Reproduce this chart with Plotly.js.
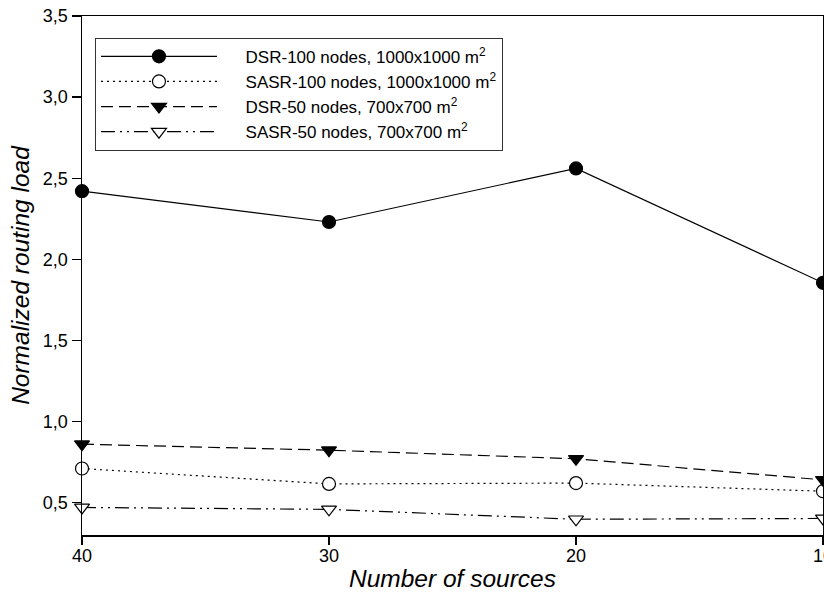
<!DOCTYPE html>
<html>
<head>
<meta charset="utf-8">
<script src="https://cdn.plot.ly/plotly-3.0.1.min.js"></script>
<style>html,body{margin:0;padding:0;background:#fff;}#chart{width:824px;height:597px;}</style>
</head>
<body>
<div id="chart"></div>
<script>
const sources = [40, 30, 20, 10];
const dsr100 = [2.42, 2.23, 2.56, 1.855];
const sasr100 = [0.71, 0.615, 0.62, 0.57];
const dsr50 = [0.86, 0.823, 0.77, 0.64];
const sasr50 = [0.47, 0.458, 0.397, 0.402];
const seriesNames = [
  'DSR-100 nodes, 1000x1000 m<sup>2</sup>',
  'SASR-100 nodes, 1000x1000 m<sup>2</sup>',
  'DSR-50 nodes, 700x700 m<sup>2</sup>',
  'SASR-50 nodes, 700x700 m<sup>2</sup>'
];
const yTicks = [0.5, 1.0, 1.5, 2.0, 2.5, 3.0, 3.5];
const xTicks = [40, 30, 20, 10];

const FONT = 'Liberation Sans, Arial, sans-serif';
const PAD = '\u00A0\u00A0\u00A0\u00A0\u00A0';
function tr(y, name, dash, symbol, fill) {
  return {
    x: sources, y: y, name: PAD + name, type: 'scatter', mode: 'lines+markers',
    cliponaxis: false,
    line: {color: '#000', width: 1.2, dash: dash},
    marker: {symbol: symbol, size: 13, color: fill, line: {color: '#000', width: 1.2}}
  };
}
const data = [
  tr(dsr100, seriesNames[0], 'solid', 'circle', '#000'),
  tr(sasr100, seriesNames[1], '2px,4px', 'circle', '#fff'),
  tr(dsr50, seriesNames[2], '12px,6px', 'triangle-down', '#000'),
  tr(sasr50, seriesNames[3], '14px,5px,2px,5px,2px,5px', 'triangle-down', '#fff')
];
const layout = {
  width: 824, height: 597,
  margin: {l: 82, r: 1, t: 16, b: 62, pad: 0},
  paper_bgcolor: '#fff', plot_bgcolor: '#fff',
  separators: ', ',
  font: {family: FONT, color: '#000', size: 18},
  showlegend: true,
  legend: {
    x: 0.0175, y: 0.958, xanchor: 'left', yanchor: 'top',
    bgcolor: '#fff', bordercolor: '#333', borderwidth: 1,
    font: {family: FONT, size: 17, color: '#000'},
    itemwidth: 116
  },
  xaxis: {
    range: [40, 10], tickvals: xTicks, ticktext: xTicks.map(String),
    showgrid: false, zeroline: false,
    showline: true, linecolor: '#000', linewidth: 1.5, mirror: true,
    ticks: 'outside', ticklen: 8, tickwidth: 1.3, tickcolor: '#000',
    ticklabeloverflow: 'allow', ticklabelstandoff: -4,
    tickfont: {family: FONT, size: 18, color: '#000'},
    title: {text: '<i>Number of sources</i>', font: {family: FONT, size: 24.5, color: '#000'}, standoff: 5}
  },
  yaxis: {
    range: [0.3, 3.5], tickvals: yTicks, tickformat: '.1f',
    showgrid: false, zeroline: false,
    showline: true, linecolor: '#000', linewidth: 1.5, mirror: true,
    ticks: 'outside', ticklen: 9, tickwidth: 1.3, tickcolor: '#000',
    tickfont: {family: FONT, size: 18, color: '#000'},
    title: {text: '<i>Normalized routing load</i>', font: {family: FONT, size: 24.5, color: '#000'}, standoff: 6}
  }
};
Plotly.newPlot('chart', data, layout, {displayModeBar: false, staticPlot: true});
</script>
</body>
</html>
